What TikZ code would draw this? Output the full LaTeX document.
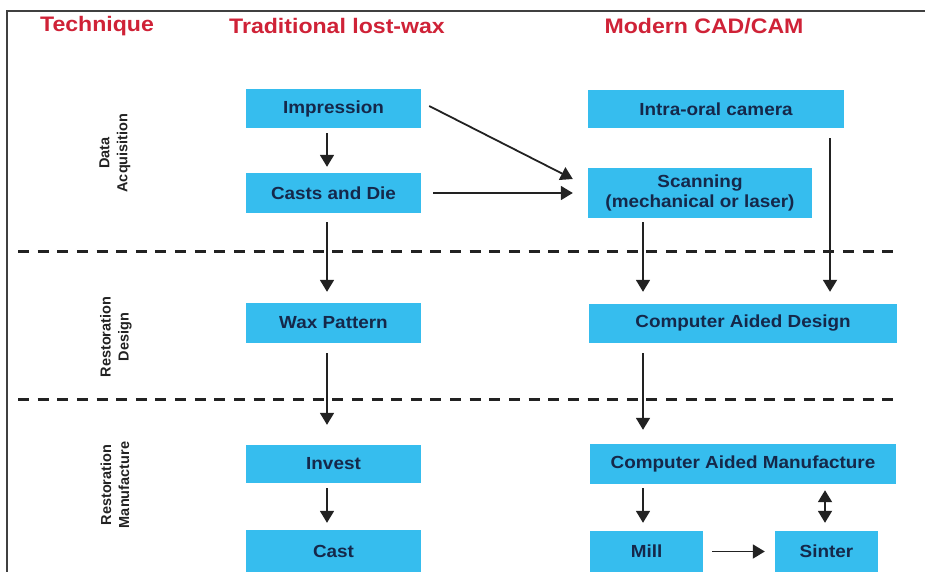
\documentclass[tikz,border=0pt]{standalone}
\usepackage{fontspec}
\setmainfont{Liberation Sans}
\newfontfamily\boxfont[FakeStretch=1.08]{Liberation Sans}
\newfontfamily\headfont[FakeStretch=1.1]{Liberation Sans}
\usetikzlibrary{arrows.meta,calc}
\definecolor{boxcyan}{HTML}{36BDEE}
\definecolor{boxtext}{HTML}{15284A}
\definecolor{headred}{HTML}{CF2237}
\definecolor{linegray}{HTML}{222222}
\tikzset{
  box/.style={rectangle, fill=boxcyan, inner sep=0pt, align=center, text=boxtext,
    font=\boxfont\bfseries\fontsize{17.5}{20}\selectfont},
  head/.style={text=headred, font=\headfont\bfseries\fontsize{21}{24}\selectfont, inner sep=0pt},
  side/.style={rotate=90, align=center, text=linegray, inner sep=0pt,
    font=\bfseries\fontsize{14.5}{18}\selectfont},
  arr/.style={draw=linegray, line width=1.8pt, -{Triangle[length=12pt,width=14pt]}},
  darr/.style={draw=linegray, line width=1.8pt, {Triangle[length=12pt,width=14pt]}-{Triangle[length=12pt,width=14pt]}},
  sep/.style={draw=linegray, line width=3pt, dash pattern=on 11pt off 8.64pt},
  frame/.style={draw=black!75, line width=1.8pt}
}
\begin{document}
\begin{tikzpicture}[x=1pt,y=-1pt]
\useasboundingbox (0,0) rectangle (925,571);
\begin{scope}
\clip (0,0) rectangle (925,571);
% frame
\coordinate (fbl) at (7,575);
\coordinate (ftl) at (7,11);
\coordinate (ftr) at (930,11);
\draw[frame] (fbl) -- (ftl) -- (ftr);

% headers
\node[head] (h1) at (97,26) {Technique};
\node[head] (h2) at (337,26) {Traditional lost-wax};
\node[head] (h3) at (704,26) {Modern CAD/CAM};

% side labels
\node[side] (s1) at (115,153) {Data\\Acquisition};
\node[side] (s2) at (116,337) {Restoration\\Design};
\node[side] (s3) at (115,485) {Restoration\\Manufacture};

% separators
\coordinate (d1a) at (18,251);
\coordinate (d1b) at (893,251);
\coordinate (d2a) at (18,399);
\coordinate (d2b) at (893,399);
\draw[sep] (d1a) -- (d1b);
\draw[sep] (d2a) -- (d2b);

% boxes
\node[box, minimum width=175pt, minimum height=39pt] (imp) at (333.5,108.5) {Impression};
\node[box, minimum width=175pt, minimum height=40pt] (casts) at (333.5,193) {Casts and Die};
\node[box, minimum width=256pt, minimum height=38pt] (intra) at (716,109) {Intra-oral camera};
\node[box, minimum width=224pt, minimum height=50pt] (scan) at (700,193) {Scanning\\(mechanical or laser)};
\node[box, minimum width=175pt, minimum height=40pt] (wax) at (333.5,323) {Wax Pattern};
\node[box, minimum width=308pt, minimum height=39pt] (cad) at (743,323.5) {Computer Aided Design};
\node[box, minimum width=175pt, minimum height=38pt] (invest) at (333.5,464) {Invest};
\node[box, minimum width=306pt, minimum height=40pt] (cam) at (743,464) {Computer Aided Manufacture};
\node[box, minimum width=175pt, minimum height=42pt] (cast) at (333.5,551) {Cast};
\node[box, minimum width=113pt, minimum height=41pt] (mill) at (646.5,551.5) {Mill};
\node[box, minimum width=103pt, minimum height=41pt] (sinter) at (826.5,551.5) {Sinter};

% arrows
\draw[arr] ($(imp.south)+(-6.5,5)$) -- ($(casts.north)+(-6.5,-6)$);
\draw[arr] ($(imp.east)+(8,-2.5)$) -- ($(scan.west)+(-15,-14)$);
\draw[arr] ($(casts.east)+(12,0)$) -- ($(scan.west)+(-15,0)$);
\draw[arr] ($(casts.south)+(-6.5,9)$) -- ($(wax.north)+(-6.5,-11)$);
\draw[arr] ($(intra.south)+(114,10)$) -- ($(cad.north)+(87,-12)$);
\draw[arr] ($(scan.south)+(-57,4)$) -- ($(cad.north)+(-100,-12)$);
\draw[arr] ($(wax.south)+(-6.5,10)$) -- ($(invest.north)+(-6.5,-20)$);
\draw[arr] ($(cad.south)+(-100,10)$) -- ($(cam.north)+(-100,-14)$);
\draw[arr] ($(invest.south)+(-6.5,5)$) -- ($(cast.north)+(-6.5,-7)$);
\draw[arr] ($(cam.south)+(-100,4)$) -- ($(mill.north)+(-3.5,-8)$);
\draw[darr] ($(cam.south)+(82,6)$) -- ($(sinter.north)+(-1.5,-8)$);
\draw[arr] ($(mill.east)+(9,0)$) -- ($(sinter.west)+(-10,0)$);
\end{scope}
\end{tikzpicture}
\end{document}
